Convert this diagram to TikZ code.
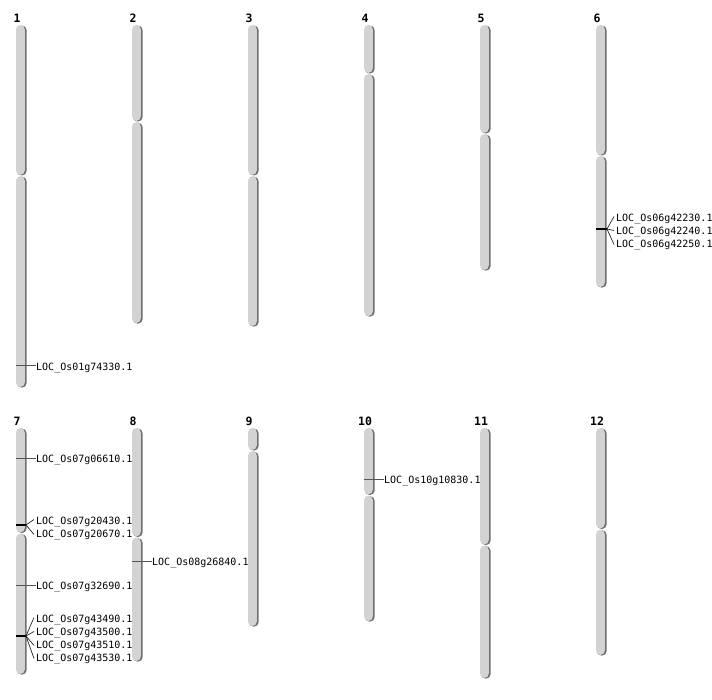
\documentclass[tikz,border=0pt]{standalone}
\usepackage{fontspec}
\newfontfamily\labfont{DejaVu Sans Mono}
\definecolor{armc}{HTML}{D3D3D3}
\definecolor{shadc}{HTML}{707070}
\definecolor{markc}{HTML}{555555}
\tikzset{
  chrnum/.style={font=\labfont\bfseries\fontsize{11.5}{12}\selectfont, inner sep=0pt, anchor=center},
  loclab/.style={font=\labfont\fontsize{10}{11}\selectfont, inner sep=0pt, anchor=west},
  single/.style={draw=markc, line width=1pt},
  multi/.style={draw=black, line width=1.8pt},
  fan/.style={draw=black!85, line width=0.7pt},
}
\newcommand{\arm}[3]{% cx, top, bottom
  \fill[shadc, rounded corners=4.5pt] ({#1-4},{#2+0.6}) rectangle ({#1+5.6},{#3+0.6});
  \fill[armc, rounded corners=4.5pt] ({#1-5},{#2}) rectangle ({#1+3.8},{#3});
}
\newcommand{\chrom}[6]{% name, cx, top, cent, bottom, numy
  \arm{#2}{#3}{#4-0.6}
  \arm{#2}{#4+0.6}{#5}
  \node[chrnum] (n#1) at ({#2-4},{#6}) {#1};
}
\begin{document}
\begin{tikzpicture}[x=1pt,y=-1pt]
\useasboundingbox[fill=white] (0,0) rectangle (712,700);
% row 1
\chrom{1}{21}{25}{175.5}{387}{18}
\chrom{2}{137}{25}{121.5}{323}{18}
\chrom{3}{253}{25}{175.5}{326}{18}
\chrom{4}{369}{25}{73.5}{316}{18}
\chrom{5}{485}{25}{133.5}{270}{18}
\chrom{6}{601}{25}{155.5}{287}{18}
% row 2
\chrom{7}{21}{428}{533}{674}{421}
\chrom{8}{137}{428}{537}{661}{421}
\chrom{9}{253}{428}{450.5}{626}{421}
\chrom{10}{369}{428}{495}{621}{421}
\chrom{11}{485}{428}{545}{678}{421}
\chrom{12}{601}{428}{529}{655}{421}

% single markers
\coordinate (m1) at (16,366);
\node[loclab] (l1) at (36,368) {LOC\_Os01g74330.1};
\draw[single] (m1) -- (l1.west |- m1);

\coordinate (m7a) at (16,458);
\node[loclab] (l7a) at (36,460) {LOC\_Os07g06610.1};
\draw[single] (m7a) -- (l7a.west |- m7a);

\coordinate (m7c) at (16,585);
\node[loclab] (l7c) at (36,587) {LOC\_Os07g32690.1};
\draw[single] (m7c) -- (l7c.west |- m7c);

\coordinate (m8) at (132,561);
\node[loclab] (l8) at (152,563) {LOC\_Os08g26840.1};
\draw[single] (m8) -- (l8.west |- m8);

\coordinate (m10) at (364,479);
\node[loclab] (l10) at (384,481) {LOC\_Os10g10830.1};
\draw[single] (m10) -- (l10.west |- m10);

% chr6 cluster
\coordinate (c6a) at (596,229);
\coordinate (c6b) at (607,229);
\draw[multi] (c6a) -- (c6b);
\node[loclab] (l6a) at (616,218.5) {LOC\_Os06g42230.1};
\node[loclab] (l6b) at (616,231.5) {LOC\_Os06g42240.1};
\node[loclab] (l6c) at (616,244.5) {LOC\_Os06g42250.1};
\draw[fan] (c6b) -- ([xshift=-2pt,yshift=2pt]l6a.west);
\draw[fan] (c6b) -- ([xshift=-2pt,yshift=1pt]l6b.west);
\draw[fan] (c6b) -- ([xshift=-2pt]l6c.west);

% chr7 cluster b
\coordinate (c7ba) at (16,525);
\coordinate (c7bb) at (26,525);
\draw[multi] (c7ba) -- (c7bb);
\node[loclab] (l7b1) at (36,521.5) {LOC\_Os07g20430.1};
\node[loclab] (l7b2) at (36,534.5) {LOC\_Os07g20670.1};
\draw[fan] (c7bb) -- ([xshift=-2pt,yshift=2pt]l7b1.west);
\draw[fan] (c7bb) -- ([xshift=-2pt]l7b2.west);

% chr7 cluster d
\coordinate (c7da) at (16,636);
\coordinate (c7db) at (26,636);
\draw[multi] (c7da) -- (c7db);
\node[loclab] (l7d1) at (36,619.5) {LOC\_Os07g43490.1};
\node[loclab] (l7d2) at (36,632.5) {LOC\_Os07g43500.1};
\node[loclab] (l7d3) at (36,645.5) {LOC\_Os07g43510.1};
\node[loclab] (l7d4) at (36,658.5) {LOC\_Os07g43530.1};
\draw[fan] (c7db) -- ([xshift=-2pt,yshift=2pt]l7d1.west);
\draw[fan] (c7db) -- ([xshift=-2pt,yshift=1pt]l7d2.west);
\draw[fan] (c7db) -- ([xshift=-2pt]l7d3.west);
\draw[fan] (c7db) -- ([xshift=-2pt]l7d4.west);
\end{tikzpicture}
\end{document}
